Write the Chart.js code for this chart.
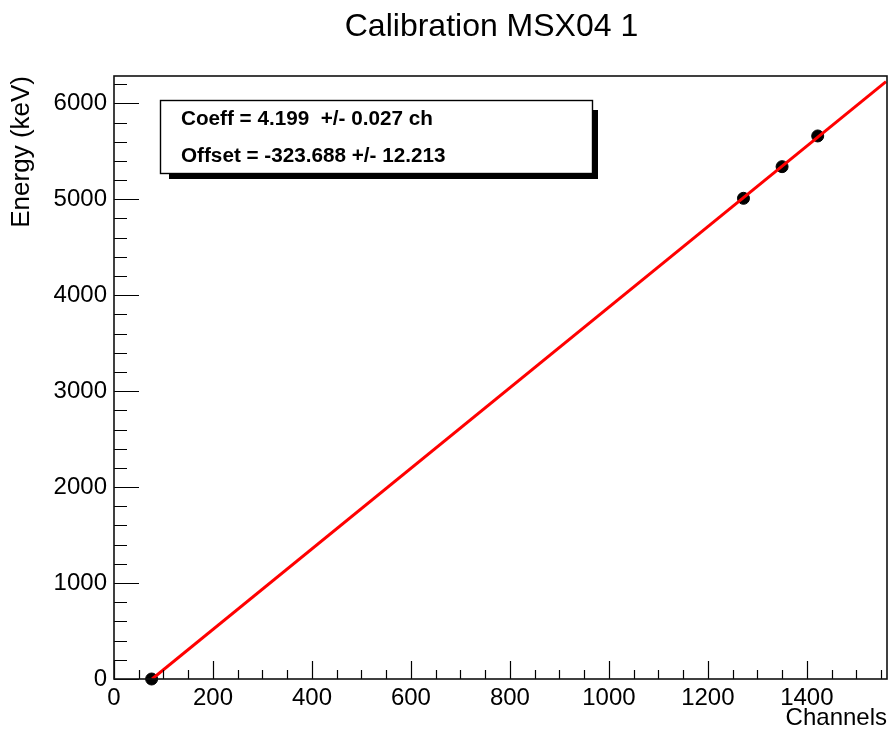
<!DOCTYPE html>
<html>
<head>
<meta charset="utf-8">
<script src="https://cdn.jsdelivr.net/npm/chart.js@4"></script>
<style>
  html, body { margin: 0; padding: 0; background: #fff; }
</style>
</head>
<body>
<canvas id="graficoCalibracion" width="889" height="731"></canvas>
<script>
// ----------------------
// DATOS
// ----------------------
const tituloGrafico = 'Calibration MSX04 1';
const canalesMedidos = [76, 1272, 1350, 1422];
const energiasMedidas = [0, 5010, 5340, 5660];
const canalesAjuste = [77, 1560];
const energiasAjuste = [0, 6226];
const lineasStats = ['Coeff = 4.199  +/- 0.027 ch', 'Offset = -323.688 +/- 12.213'];
const ticksX = [0, 200, 400, 600, 800, 1000, 1200, 1400];
const ticksY = [0, 1000, 2000, 3000, 4000, 5000, 6000];
const rangoX = [0, 1562];
const rangoY = [0, 6285];

const fuente = '"Liberation Sans", Arial, Helvetica, sans-serif';

// marco, ticks hacia dentro, cuadro de stats y titulo (estilo ROOT)
const estiloRoot = {
  id: 'estiloRoot',
  afterDraw(chart) {
    const ctx = chart.ctx;
    const a = chart.chartArea;
    const sx = chart.scales.x;
    const sy = chart.scales.y;
    ctx.save();

    // ticks (mayores en las etiquetas, menores cada 50 / 200)
    ctx.strokeStyle = '#000';
    ctx.lineWidth = 1.2;
    ctx.beginPath();
    for (let v = rangoX[0]; v <= rangoX[1]; v += 50) {
      const px = Math.round(sx.getPixelForValue(v)) + 0.5;
      const largo = ticksX.includes(v) ? 18 : 9;
      ctx.moveTo(px, a.bottom);
      ctx.lineTo(px, a.bottom - largo);
    }
    for (let v = rangoY[0]; v <= rangoY[1]; v += 200) {
      const py = Math.round(sy.getPixelForValue(v)) + 0.5;
      const largo = ticksY.includes(v) ? 25 : 13;
      ctx.moveTo(a.left, py);
      ctx.lineTo(a.left + largo, py);
    }
    ctx.stroke();

    // marco
    ctx.lineWidth = 1.6;
    ctx.strokeStyle = '#111';
    ctx.strokeRect(a.left, a.top, a.right - a.left, a.bottom - a.top);

    // cuadro de stats con sombra
    ctx.fillStyle = '#000';
    ctx.fillRect(169, 110, 429, 69);
    ctx.fillStyle = '#fff';
    ctx.fillRect(160, 100, 433, 74);
    ctx.lineWidth = 1.4;
    ctx.strokeStyle = '#000';
    ctx.strokeRect(160.5, 100.5, 432, 73);
    ctx.fillStyle = '#000';
    ctx.font = 'bold 20.7px ' + fuente;
    ctx.textBaseline = 'middle';
    ctx.textAlign = 'left';
    ctx.fillText(lineasStats[0], 181, 119);
    ctx.fillText(lineasStats[1], 181, 156);

    // titulo
    ctx.font = '32px ' + fuente;
    ctx.textAlign = 'center';
    ctx.fillText(tituloGrafico, 491.5, 27);

    ctx.restore();
  }
};

const ctx = document.getElementById('graficoCalibracion').getContext('2d');
new Chart(ctx, {
  type: 'scatter',
  data: {
    datasets: [
      {
        label: 'Ajuste',
        type: 'line',
        data: canalesAjuste.map((c, i) => ({ x: c, y: energiasAjuste[i] })),
        borderColor: '#ff0000',
        borderWidth: 3,
        pointRadius: 0,
        fill: false,
        showLine: true
      },
      {
        label: 'Puntos',
        data: canalesMedidos.map((c, i) => ({ x: c, y: energiasMedidas[i] })),
        backgroundColor: '#000',
        borderColor: '#000',
        pointRadius: 6,
        showLine: false,
        clip: false
      }
    ]
  },
  options: {
    responsive: false,
    animation: false,
    layout: { autoPadding: false, padding: { top: 76, right: 2, left: 0, bottom: 0 } },
    plugins: {
      legend: { display: false },
      tooltip: { enabled: false },
      title: { display: false }
    },
    scales: {
      x: {
        type: 'linear',
        min: rangoX[0],
        max: rangoX[1],
        grid: { display: false, drawTicks: false },
        border: { display: false },
        afterBuildTicks: s => { s.ticks = ticksX.map(v => ({ value: v })); },
        ticks: {
          autoSkip: false,
          maxRotation: 0,
          padding: 5,
          color: '#000',
          font: { family: fuente, size: 24 },
          callback: v => String(v)
        },
        title: {
          display: true,
          text: 'Channels',
          align: 'end',
          color: '#000',
          font: { family: fuente, size: 24 },
          padding: { top: 0, bottom: -2 }
        },
        afterFit: s => {
          s.height = 52;
          s.paddingLeft = 0;
          s.paddingRight = 0;
        }
      },
      y: {
        type: 'linear',
        min: rangoY[0],
        max: rangoY[1],
        grid: { display: false, drawTicks: false },
        border: { display: false },
        afterBuildTicks: s => { s.ticks = ticksY.map(v => ({ value: v })); },
        ticks: {
          autoSkip: false,
          padding: 7,
          color: '#000',
          font: { family: fuente, size: 24 },
          callback: v => String(v)
        },
        title: {
          display: true,
          text: 'Energy (keV)',
          align: 'end',
          color: '#000',
          font: { family: fuente, size: 26 },
          padding: { top: 6, bottom: 0 }
        },
        afterFit: s => {
          s.width = 114;
          s.paddingTop = 0;
          s.paddingBottom = 0;
        }
      }
    }
  },
  plugins: [estiloRoot]
});
</script>
</body>
</html>
